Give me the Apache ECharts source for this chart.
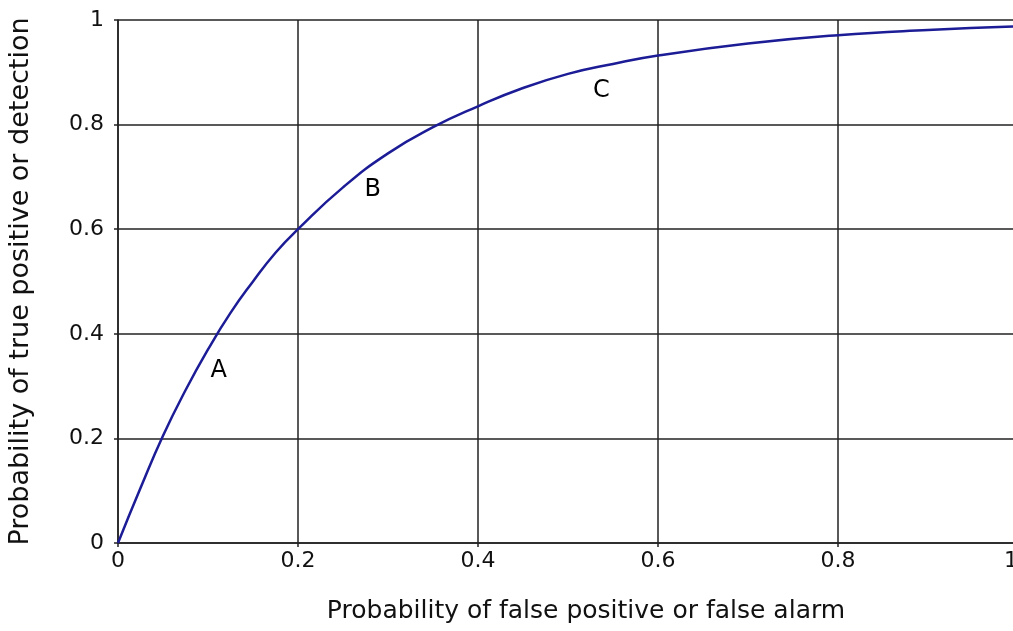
<!DOCTYPE html>
<html><head><meta charset="utf-8">
<script src="https://cdn.jsdelivr.net/npm/echarts@6/dist/echarts.min.js"></script>
<style>html,body{margin:0;padding:0;background:#fff}#c{width:1013px;height:631px}</style>
</head><body><div id="c"></div>
<script>
const falsePositive = [0, 0.025, 0.05, 0.075, 0.1, 0.125, 0.15, 0.175, 0.2, 0.25, 0.3, 0.35, 0.4, 0.45, 0.5, 0.55, 0.6, 0.7, 0.8, 0.9, 1.0];
const truePositive  = [0, 0.105, 0.205, 0.292, 0.37, 0.44, 0.5, 0.555, 0.6, 0.68, 0.745, 0.795, 0.835, 0.87, 0.897, 0.916, 0.932, 0.955, 0.971, 0.981, 0.988];
const pointNames = ['A', 'B', 'C'];
const pointX = [0.112, 0.283, 0.537];
const pointY = [0.33, 0.675, 0.865];
const xTicks = [0, 0.2, 0.4, 0.6, 0.8, 1];
const yTicks = [0, 0.2, 0.4, 0.6, 0.8, 1];

const chart = echarts.init(document.getElementById('c'));
const font = 'DejaVu Sans';
const gridLine = {show: true, lineStyle: {color: '#222', width: 1.5}};
chart.setOption({
  animation: false,
  grid: {left: 118, width: 900, top: 20, height: 523, containLabel: false, outerBoundsMode: 'none'},
  xAxis: {
    type: 'value', min: 0, max: 1, interval: 0.2,
    name: 'Probability of false positive or false alarm',
    nameLocation: 'middle', nameGap: 56,
    nameTextStyle: {fontFamily: font, fontSize: 25, color: '#111', padding: [0, 0, 0, 36]},
    axisLine: {show: true, lineStyle: {color: '#222', width: 1.5}},
    axisTick: {show: true, length: 4, lineStyle: {color: '#222', width: 1.5}},
    axisLabel: {fontFamily: font, fontSize: 22, color: '#111', margin: 7, alignMaxLabel: 'right',
      formatter: v => xTicks.includes(Math.round(v*10)/10) ? String(Math.round(v*10)/10) : ''},
    splitLine: gridLine
  },
  yAxis: {
    type: 'value', min: 0, max: 1, interval: 0.2,
    name: 'Probability of true positive or detection',
    nameLocation: 'middle', nameGap: 84, nameRotate: 90,
    nameTextStyle: {fontFamily: font, fontSize: 27, color: '#111'},
    axisLine: {show: true, lineStyle: {color: '#222', width: 1.5}},
    axisTick: {show: true, length: 4, lineStyle: {color: '#222', width: 1.5}},
    axisLabel: {fontFamily: font, fontSize: 22, color: '#111', margin: 14,
      formatter: v => yTicks.includes(Math.round(v*10)/10) ? String(Math.round(v*10)/10) : ''},
    splitLine: gridLine
  },
  series: [
    {
      type: 'line', smooth: 0.5, symbol: 'none',
      data: falsePositive.map((x, i) => [x, truePositive[i]]),
      lineStyle: {color: '#1c1c96', width: 2.5}
    },
    {
      type: 'scatter', symbolSize: 0, silent: true,
      itemStyle: {opacity: 1},
      data: pointNames.map((n, i) => ({name: n, value: [pointX[i], pointY[i]]})),
      label: {show: true, position: 'inside', formatter: p => p.name,
        fontFamily: font, fontSize: 24, color: '#000', opacity: 1}
    }
  ]
});
</script></body></html>
